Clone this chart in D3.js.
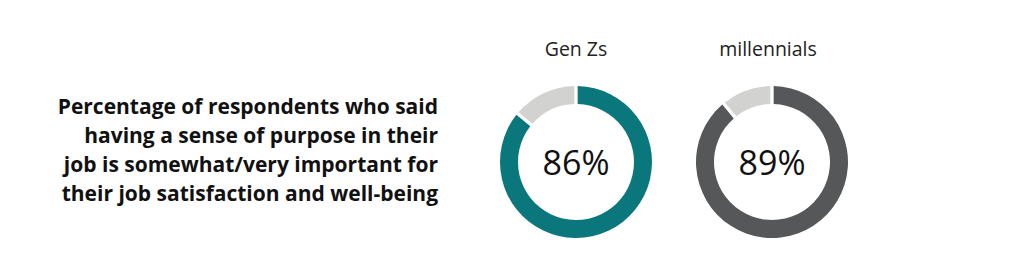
<!DOCTYPE html>
<head>
  <meta charset="utf-8">
  <script src="https://d3js.org/d3.v7.min.js"></script>
  <style>
    body { margin:0; background:#fff; }
    svg { display:block; }
  </style>
</head>
<body>
<script>
  var width = 1024,
      height = 279;

  // data
  var groups = ["Gen Zs", "millennials"];
  var shares = [86, 89];
  var groupColors = ["#0a777c", "#565759"];
  var restColor = "#d2d2d1";
  var titleLines = [
    "Percentage of respondents who said",
    "having a sense of purpose in their",
    "job is somewhat/very important for",
    "their job satisfaction and well-being"
  ];

  var svg = d3.select("body").append("svg")
    .attr("width", width)
    .attr("height", height);

  // title, right aligned
  svg.append("text")
    .attr("x", 438)
    .attr("y", 114)
    .attr("text-anchor", "end")
    .style("font-family", "'Open Sans', sans-serif")
    .style("font-weight", 700)
    .style("font-size", "21px")
    .style("fill", "#111")
    .selectAll("tspan")
    .data(titleLines)
    .enter().append("tspan")
      .attr("x", 438)
      .attr("dy", function(d, i) { return i === 0 ? 0 : 29; })
      .text(function(d) { return d; });

  var x = d3.scalePoint().domain(groups).range([576, 772]);
  var cy = 162;

  var pie = d3.pie().sort(null).value(function(d) { return d; });
  var arc = d3.arc().innerRadius(58).outerRadius(76).padAngle(0.035);

  var g = svg.selectAll("g.donut")
    .data(groups)
    .enter().append("g")
      .attr("class", "donut")
      .attr("transform", function(d) { return "translate(" + x(d) + "," + cy + ")"; });

  g.selectAll("path")
    .data(function(d, i) {
      return pie([shares[i], 100 - shares[i]]).map(function(s, j) {
        s.color = j === 0 ? groupColors[i] : restColor;
        return s;
      });
    })
    .enter().append("path")
      .attr("d", arc)
      .style("fill", function(d) { return d.color; });

  g.append("text")
    .attr("y", 13)
    .attr("text-anchor", "middle")
    .style("font-family", "'Open Sans', sans-serif")
    .style("font-weight", 400)
    .style("font-size", "34px")
    .style("fill", "#111")
    .text(function(d, i) { return shares[i] + "%"; });

  g.append("text")
    .attr("x", function(d, i) { return i === 0 ? 0 : -4; })
    .attr("y", -106)
    .attr("text-anchor", "middle")
    .style("font-family", "'Open Sans', sans-serif")
    .style("font-size", "19.5px")
    .style("fill", "#222")
    .text(function(d) { return d; });
</script>
</body>
